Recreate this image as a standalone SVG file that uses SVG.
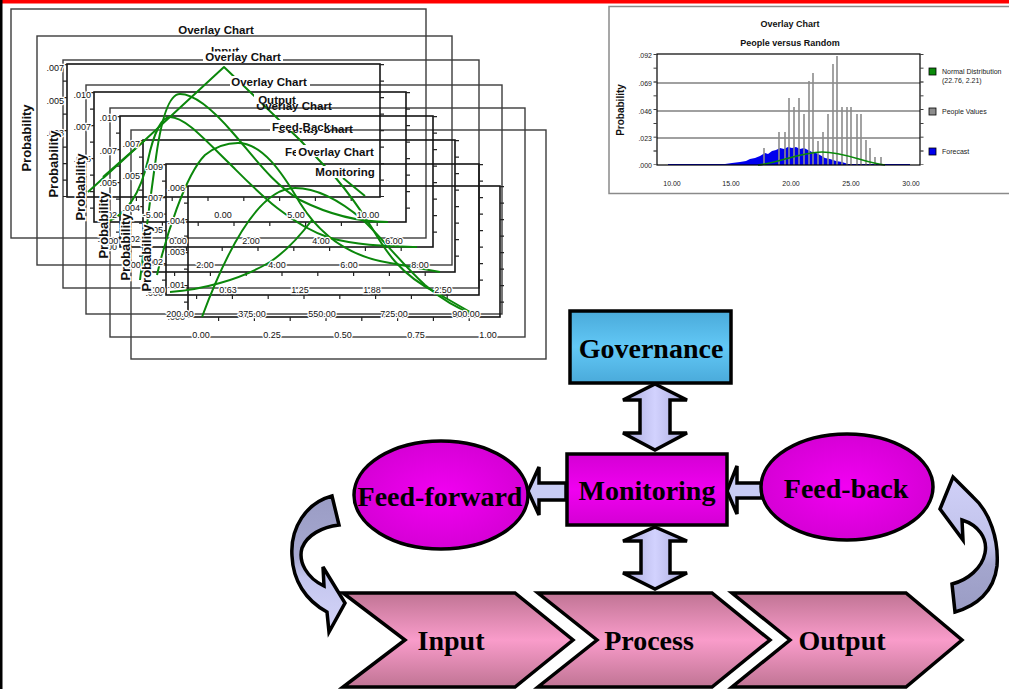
<svg xmlns="http://www.w3.org/2000/svg" width="1009" height="689" viewBox="0 0 1009 689">
<style>
.t{font-family:"Liberation Sans",Arial,sans-serif;font-size:9px;fill:#111;paint-order:stroke;stroke:#fff;stroke-width:2.5px}
.tm{text-anchor:middle}
.te{text-anchor:end}
.tt{font-family:"Liberation Sans",Arial,sans-serif;font-size:11.5px;font-weight:bold;fill:#111;text-anchor:middle}
.pb{font-family:"Liberation Sans",Arial,sans-serif;font-size:13px;font-weight:bold;fill:#111;text-anchor:middle;paint-order:stroke;stroke:#fff;stroke-width:3px}
.of{fill:none;stroke:#3c3c3c;stroke-width:1.4}
.pf{fill:none;stroke:#151515;stroke-width:1.6}
.tk{stroke:#222;stroke-width:4}
.g{fill:none;stroke:#0b870b;stroke-width:2;stroke-linejoin:round}
.lbl{font-family:"Liberation Serif","Times New Roman",serif;font-weight:bold;font-size:28px;fill:#000;text-anchor:middle}
.ed{stroke:#000;stroke-width:3.5;stroke-linejoin:miter}
.rc{font-family:"Liberation Sans",Arial,sans-serif;font-size:7px;fill:#222}
.rt{font-family:"Liberation Sans",Arial,sans-serif;font-size:9px;font-weight:bold;fill:#111;text-anchor:middle}
</style>
<defs>
<linearGradient id="gov" x1="0" y1="0" x2="0" y2="1"><stop offset="0" stop-color="#4aaada"/><stop offset="0.5" stop-color="#62c8f6"/><stop offset="1" stop-color="#4aaada"/></linearGradient>
<linearGradient id="mag" x1="0" y1="0" x2="0" y2="1"><stop offset="0" stop-color="#d400d4"/><stop offset="0.5" stop-color="#f000f0"/><stop offset="1" stop-color="#d400d4"/></linearGradient>
<radialGradient id="ell" cx="0.5" cy="0.5" r="0.6"><stop offset="0" stop-color="#f200f2"/><stop offset="1" stop-color="#d000d0"/></radialGradient>
<linearGradient id="chev" x1="0" y1="0" x2="0" y2="1"><stop offset="0" stop-color="#c07494"/><stop offset="0.5" stop-color="#f99cca"/><stop offset="1" stop-color="#c07494"/></linearGradient>
<linearGradient id="lav" x1="0" y1="0" x2="1" y2="0"><stop offset="0" stop-color="#a8a8da"/><stop offset="0.5" stop-color="#d2d2fe"/><stop offset="1" stop-color="#a8a8da"/></linearGradient>
<linearGradient id="curL" x1="0" y1="0" x2="0" y2="1"><stop offset="0" stop-color="#9a9cc4"/><stop offset="0.45" stop-color="#a6a8d0"/><stop offset="0.6" stop-color="#c4c6ee"/><stop offset="1" stop-color="#d4d4f8"/></linearGradient>
<linearGradient id="curR" x1="0" y1="0" x2="0" y2="1"><stop offset="0" stop-color="#d0d0f8"/><stop offset="0.5" stop-color="#c0c2ea"/><stop offset="0.65" stop-color="#a4a6ce"/><stop offset="1" stop-color="#9a9cc4"/></linearGradient>
</defs>
<rect x="0" y="0" width="1009" height="689" fill="#fff"/>

<!-- overlay chart collage -->
<g id="collage">
<g>
<rect class="of" x="11" y="9" width="415" height="229"/>
<rect class="of" x="37" y="36" width="415" height="229"/>
<rect class="of" x="63" y="60" width="416" height="228"/>
<rect class="of" x="86" y="85" width="416" height="229"/>
<rect class="of" x="110" y="108" width="415" height="229"/>
<rect class="of" x="131" y="130" width="415" height="229"/>
</g>
<g>
<rect class="pf" x="67" y="64" width="313" height="133"/>
<rect class="pf" x="94" y="92" width="312" height="130"/>
<rect class="pf" x="120" y="116" width="313" height="131"/>
<rect class="pf" x="143" y="140" width="312" height="132"/>
<rect class="pf" x="166" y="164" width="313" height="131"/>
<rect class="pf" x="188" y="186" width="312" height="131"/>
</g>
<g stroke-dasharray="1.2 15.3">
<line class="tk" x1="382" y1="64" x2="382" y2="197"/>
<line class="tk" x1="408" y1="92" x2="408" y2="222"/>
<line class="tk" x1="435" y1="116" x2="435" y2="247"/>
<line class="tk" x1="457" y1="140" x2="457" y2="272"/>
<line class="tk" x1="481" y1="164" x2="481" y2="295"/>
<line class="tk" x1="502" y1="186" x2="502" y2="317"/>
<line class="tk" x1="65" y1="64" x2="65" y2="197"/>
<line class="tk" x1="92" y1="92" x2="92" y2="222"/>
<line class="tk" x1="118" y1="116" x2="118" y2="247"/>
<line class="tk" x1="141" y1="140" x2="141" y2="272"/>
<line class="tk" x1="164" y1="164" x2="164" y2="295"/>
<line class="tk" x1="186" y1="186" x2="186" y2="317"/>
</g>
<g stroke-dasharray="1.2 34.6">
<line class="tk" x1="100" y1="199" x2="380" y2="199"/>
<line class="tk" x1="126" y1="224" x2="406" y2="224"/>
<line class="tk" x1="150" y1="249" x2="433" y2="249"/>
<line class="tk" x1="174" y1="274" x2="455" y2="274"/>
<line class="tk" x1="196" y1="297" x2="479" y2="297"/>
<line class="tk" x1="218" y1="319" x2="500" y2="319"/>
</g>
<g>
<path class="g" d="M88,192 L145,140 L224,67 L300,140 L335,177 C352,197 362,212 372,228 C385,250 400,275 437,293 L477,316"/>
<path class="g" d="M103,177 L145,140"/>
<path class="g" d="M140,280 C145,240 150,200 155,165 C160,125 168,94 180,94 C195,94 215,112 233,133 C255,158 272,183 300,200 C330,215 360,222 388,222"/>
<path class="g" d="M107,222 C125,215 140,195 148,160 C154,132 162,117 170,117 C185,117 205,140 233,167 C258,192 290,225 330,238 C360,246 390,246 417,247"/>
<path class="g" d="M157,275 C165,240 185,175 205,155 C215,147 226,143 238,143 C262,143 282,172 300,203 C318,232 345,256 390,263 L440,272"/>
<path class="g" d="M202,317 C225,255 258,188 295,188 C320,188 343,203 363,220 C382,238 400,262 425,285 C440,298 455,308 477,316"/>
<path class="g" d="M170,292 C200,290 240,280 270,262 C288,250 300,236 312,220"/>
<path class="g" d="M343,178 L365,196"/>
</g>
<g>
<text class="tt" x="216" y="34">Overlay Chart</text>
<text class="tt" x="225" y="55">Input</text>
<rect x="203" y="51.5" width="80" height="9.5" fill="#fff"/>
<text class="tt" x="243" y="61">Overlay Chart</text>
<rect x="230" y="76" width="80" height="10" fill="#fff"/>
<text class="tt" x="269" y="86">Overlay Chart</text>
<text class="tt" x="294" y="110">Overlay Chart</text>
<rect x="254" y="94" width="46" height="10" fill="#fff"/>
<text class="tt" x="277" y="104">Output</text>
<text class="tt" x="315" y="133">Overlay Chart</text>
<rect x="270" y="120" width="60" height="11" fill="#fff"/>
<text class="tt" x="301" y="131">Feed-Back</text>
<text class="tt" x="285" y="156" text-anchor="start" style="text-anchor:start">Fe</text>
<rect x="296" y="145" width="80" height="12" fill="#fff"/>
<text class="tt" x="336" y="156">Overlay Chart</text>
<rect x="314" y="166" width="62" height="12" fill="#fff"/>
<text class="tt" x="345" y="176">Monitoring</text>
</g>
<g>
<text class="t te" x="64" y="71">.007</text><text class="t te" x="64" y="104">.005</text><text class="t te" x="64" y="136">.003</text>
<text class="t te" x="91" y="98">.010</text><text class="t te" x="91" y="130">.007</text><text class="t te" x="91" y="162">.005</text>
<text class="t te" x="117" y="121">.010</text><text class="t te" x="117" y="154">.007</text><text class="t te" x="117" y="186">.005</text><text class="t te" x="117" y="218">.002</text><text class="t te" x="117" y="250">.000</text>
<text class="t te" x="140" y="147">.007</text><text class="t te" x="140" y="179">.005</text><text class="t te" x="140" y="211">.004</text><text class="t te" x="140" y="242">.002</text>
<text class="t te" x="163" y="170">.009</text><text class="t te" x="163" y="201">.007</text><text class="t te" x="163" y="233">.005</text><text class="t te" x="163" y="265">.002</text><text class="t te" x="163" y="296">.000</text>
<text class="t te" x="185" y="191">.006</text><text class="t te" x="185" y="224">.004</text><text class="t te" x="185" y="255">.003</text><text class="t te" x="185" y="288">.001</text><text class="t te" x="185" y="320">.000</text>
<text class="t tm" x="153" y="218">-5.00</text><text class="t tm" x="223" y="218">0.00</text><text class="t tm" x="296" y="218">5.00</text><text class="t tm" x="368" y="218">10.00</text>
<text class="t tm" x="108" y="244">-2.00</text><text class="t tm" x="178" y="244">0.00</text><text class="t tm" x="251" y="244">2.00</text><text class="t tm" x="321" y="244">4.00</text><text class="t tm" x="394" y="244">6.00</text>
<text class="t tm" x="132" y="268">0.00</text><text class="t tm" x="205" y="268">2.00</text><text class="t tm" x="277" y="268">4.00</text><text class="t tm" x="349" y="268">6.00</text><text class="t tm" x="420" y="268">8.00</text>
<text class="t tm" x="156" y="293">0.00</text><text class="t tm" x="228" y="293">0.63</text><text class="t tm" x="300" y="293">1.25</text><text class="t tm" x="372" y="293">1.88</text><text class="t tm" x="443" y="293">2.50</text>
<text class="t tm" x="180" y="317">200.00</text><text class="t tm" x="252" y="317">375.00</text><text class="t tm" x="322" y="317">550.00</text><text class="t tm" x="394" y="317">725.00</text><text class="t tm" x="466" y="317">900.00</text>
<text class="t tm" x="201" y="338">0.00</text><text class="t tm" x="272" y="338">0.25</text><text class="t tm" x="343" y="338">0.50</text><text class="t tm" x="416" y="338">0.75</text><text class="t tm" x="488" y="338">1.00</text>
</g>
<g>
<text class="pb" transform="translate(31,138) rotate(-90)">Probability</text>
<text class="pb" transform="translate(58,164) rotate(-90)">Probability</text>
<text class="pb" transform="translate(85,187) rotate(-90)">Probability</text>
<text class="pb" transform="translate(108,225) rotate(-90)">Probability</text>
<text class="pb" transform="translate(130,247) rotate(-90)">Probability</text>
<text class="pb" transform="translate(151,258) rotate(-90)">Probability</text>
</g>
</g>

<!-- right chart -->
<g id="people-chart">
<rect x="609" y="6.5" width="420" height="187" fill="#fff" stroke="#8a8a8a" stroke-width="1.5"/>
<text class="rt" x="790" y="27">Overlay Chart</text>
<text class="rt" x="790" y="46">People versus Random</text>
<g stroke="#808080" stroke-width="1.5">
<line x1="657" y1="83" x2="920" y2="83"/><line x1="657" y1="111" x2="920" y2="111"/><line x1="657" y1="138" x2="920" y2="138"/>
</g>
<path d="M668,165 L668,164 L725,164 L732,163 L740,162 L746,161 L750,159 L755,158 L760,156 L765,153 L768,154 L772,151 L776,150 L780,148 L784,149 L788,147 L792,148 L796,147 L800,149 L804,148 L808,150 L812,152 L816,153 L820,155 L825,158 L830,159 L836,161 L842,162 L848,164 L910,164 L910,165 Z" fill="#0000ee"/>
<path d="M764,165V148M779,165V132M785,165V132M789,165V98M794,165V107M799,165V98M804,165V114M809,165V81M813,165V73M818,165V141M823,165V132M828,165V114M833,165V64M837,165V56M842,165V107M847,165V107M851,165V107M857,165V114M861,165V114M866,165V140M870,165V148M875,165V157M881,165V157" stroke="#8c8c8c" stroke-width="1.6" fill="none"/>
<path d="M758,165 C780,163 800,152 822,152 C845,152 865,163 885,165" fill="none" stroke="#0b8a0b" stroke-width="1.6"/>
<rect x="657" y="54" width="263" height="111" fill="none" stroke="#000" stroke-width="1.2"/>
<line x1="655" y1="54" x2="655" y2="165" stroke="#000" stroke-width="3" stroke-dasharray="0.8 13"/>
<line x1="922" y1="54" x2="922" y2="165" stroke="#000" stroke-width="3" stroke-dasharray="0.8 13"/>
<text class="rc" x="652" y="58" text-anchor="end">.092</text>
<text class="rc" x="652" y="86" text-anchor="end">.069</text>
<text class="rc" x="652" y="114" text-anchor="end">.046</text>
<text class="rc" x="652" y="141" text-anchor="end">.023</text>
<text class="rc" x="652" y="168" text-anchor="end">.000</text>
<text class="rc" x="672" y="186" text-anchor="middle">10.00</text>
<text class="rc" x="731" y="186" text-anchor="middle">15.00</text>
<text class="rc" x="791" y="186" text-anchor="middle">20.00</text>
<text class="rc" x="851" y="186" text-anchor="middle">25.00</text>
<text class="rc" x="911" y="186" text-anchor="middle">30.00</text>
<text transform="translate(624,110) rotate(-90)" font-family="Liberation Sans, Arial, sans-serif" font-size="10" font-weight="bold" text-anchor="middle" fill="#111">Probability</text>
<rect x="929" y="68" width="7" height="7" fill="#0a8a0a" stroke="#000" stroke-width="0.8"/>
<text class="rc" x="942" y="74">Normal Distribution</text>
<text class="rc" x="942" y="83">(22.76, 2.21)</text>
<rect x="929" y="108" width="7" height="7" fill="#8c8c8c" stroke="#000" stroke-width="0.8"/>
<text class="rc" x="942" y="114">People Values</text>
<rect x="929" y="148" width="7" height="7" fill="#0000ee" stroke="#000" stroke-width="0.8"/>
<text class="rc" x="942" y="154">Forecast</text>
</g>

<!-- connectors -->
<g id="connectors">
<path class="ed" fill="url(#lav)" d="M655,384 L687,400 L670,400 L670,433 L687,433 L655,450 L623,433 L640,433 L640,400 L623,400 Z"/>
<path class="ed" fill="url(#lav)" d="M655,527 L687,541 L670,541 L670,573 L687,573 L655,589 L623,573 L641,573 L641,541 L623,541 Z"/>
<path class="ed" fill="#c8ccf4" d="M566,483 L539,483 L539,467 L528,491 L539,515 L539,500 L566,500 Z"/>
<path class="ed" fill="#c8ccf4" d="M762,483 L737,483 L737,466 L727,491 L737,514 L737,498 L762,498 Z"/>
<path class="ed" fill="url(#curL)" d="M332,496 C306,503 290,528 292,556 C293,580 305,600 327,612 L329,632 L345,603 L323,567 L324,586 C307,578 298,562 302,548 C307,535 322,527 339,525 Z"/>
<path class="ed" fill="url(#curR)" d="M953,477 L973,497 C990,512 999,540 997,566 C994,592 976,606 955,612 L952,584 C968,580 982,568 985,553 C988,538 978,525 962,520 L963,540 L940,509 Z"/>
</g>

<g id="governance">
<rect class="ed" x="570" y="311" width="161" height="72" fill="url(#gov)"/>
<text class="lbl" x="651" y="358">Governance</text>
</g>
<g id="monitoring">
<rect class="ed" x="567" y="454" width="160" height="71" fill="url(#mag)"/>
<text class="lbl" x="647" y="500">Monitoring</text>
</g>
<g id="feed-forward">
<ellipse class="ed" cx="441" cy="495" rx="87" ry="54" fill="url(#ell)"/>
<text class="lbl" x="440" y="506">Feed-forward</text>
</g>
<g id="feed-back">
<ellipse class="ed" cx="847" cy="487" rx="86" ry="53" fill="url(#ell)"/>
<text class="lbl" x="846" y="498">Feed-back</text>
</g>
<g id="input">
<path class="ed" fill="url(#chev)" d="M343,593 L515,593 L573,640 L515,687 L343,687 L405,640 Z"/>
<text class="lbl" x="451" y="650">Input</text>
</g>
<g id="process">
<path class="ed" fill="url(#chev)" d="M538,593 L712,593 L770,640 L712,687 L538,687 L597,640 Z"/>
<text class="lbl" x="649" y="650">Process</text>
</g>
<g id="output">
<path class="ed" fill="url(#chev)" d="M732,593 L906,593 L962,640 L906,687 L732,687 L790,640 Z"/>
<text class="lbl" x="842" y="650">Output</text>
</g>

<rect x="0" y="0" width="1009" height="3.5" fill="#ff0000"/>
<rect x="0" y="0" width="2.5" height="689" fill="#000"/>
</svg>
